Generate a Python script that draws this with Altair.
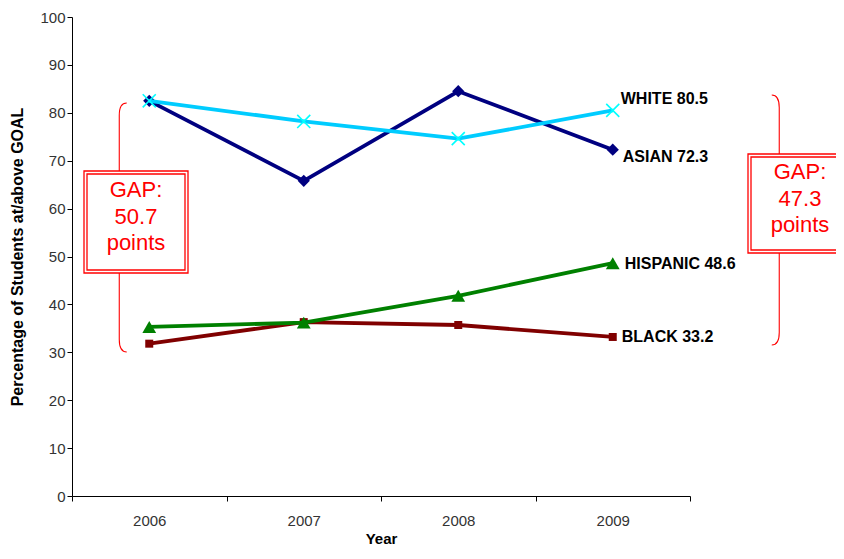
import altair as alt
import pandas as pd

years = ["2006", "2007", "2008", "2009"]
white = [82.5, 78.2, 74.6, 80.5]
asian = [82.5, 65.8, 84.5, 72.3]
hispanic = [35.3, 36.2, 41.8, 48.6]
black = [31.8, 36.3, 35.7, 33.2]
series_names = ["BLACK", "HISPANIC", "ASIAN", "WHITE"]
series_values = [black, hispanic, asian, white]
y_ticks = list(range(0, 101, 10))

rows = []
for name, vals in zip(series_names, series_values):
    for yr, v in zip(years, vals):
        rows.append({"year": yr, "series": name, "value": v})
df = pd.DataFrame(rows)
last = df[df["year"] == years[-1]].copy()
last["label"] = last["series"] + " " + last["value"].map(lambda v: f"{v:.1f}")

gap_first = max(white[0], asian[0]) - min(hispanic[0], black[0])
gap_last = max(white[-1], asian[-1]) - min(hispanic[-1], black[-1])

W, H = 618, 479
FONT = "Liberation Sans"

xscale = alt.Scale(type="band", domain=years, paddingInner=0, paddingOuter=0)
xaxis = alt.Axis(tickBand="extent", labelAngle=0, title="Year", labelFont=FONT,
                 labelFontSize=15, labelColor="#333333", labelPadding=12,
                 tickSize=5, tickColor="#000000", domainColor="#000000",
                 titleFont=FONT, titleFontSize=15, titleFontWeight="bold",
                 titleColor="#000000", titleBaseline="alphabetic", titleY=47)
yaxis = alt.Axis(values=y_ticks, title="Percentage of Students at/above GOAL",
                 labelFont=FONT, labelFontSize=15, labelColor="#333333",
                 labelPadding=2, tickSize=5, tickColor="#000000",
                 domainColor="#000000", titleFont=FONT, titleFontSize=16,
                 titleFontWeight="bold", titleColor="#000000", titlePadding=14)

X = alt.X("year:O", scale=xscale, bandPosition=0.5, axis=xaxis)
Y = alt.Y("value:Q", scale=alt.Scale(domain=[0, 100], nice=False), axis=yaxis)

styles = {
    "BLACK": dict(line="#800000", pt=dict(shape="square", size=64, filled=True, color="#800000"), dx=9, dy=0),
    "HISPANIC": dict(line="#008000", pt=dict(shape="triangle-up", size=190, filled=True, color="#008000"), dx=12, dy=1),
    "ASIAN": dict(line="#000080", pt=dict(shape="diamond", size=150, filled=True, color="#000080"), dx=10, dy=7),
    "WHITE": dict(line="#00CCFF", pt=dict(shape="M-1,-1L1,1M-1,1L1,-1", size=170, filled=False,
                                           stroke="#00FFFF", strokeWidth=1.6), dx=8, dy=-11),
}

layers = []
base = alt.Chart(df)
for name in series_names:
    st = styles[name]
    sub = base.transform_filter(alt.datum.series == name)
    layers.append(sub.mark_line(color=st["line"], strokeWidth=3.8).encode(x=X, y=Y))
    layers.append(sub.mark_point(opacity=1, **st["pt"]).encode(x=X, y=Y))

lab = alt.Chart(last)
for name in series_names:
    st = styles[name]
    layers.append(
        lab.transform_filter(alt.datum.series == name)
        .mark_text(align="left", baseline="middle", font=FONT, fontSize=16,
                   fontWeight="bold", color="#000000", dx=st["dx"], dy=st["dy"])
        .encode(x=X, y=Y, text="label:N")
    )

one = alt.Chart(pd.DataFrame({"k": [0]}))
brace_left = "M0.03,-1C-0.01,-1,-0.03,-0.97,-0.03,-0.9L-0.03,0.9C-0.03,0.97,-0.01,1,0.03,1"
brace_right = "M-0.03,-1C0.01,-1,0.03,-0.97,0.03,-0.9L0.03,0.9C0.03,0.97,0.01,1,-0.03,1"
RED = "#FF0000"
annot = [
    one.mark_point(shape=brace_left, size=249 ** 2, filled=False, stroke=RED, strokeWidth=1.1, opacity=1)
       .encode(x=alt.value(51), y=alt.value(210.5)),
    one.mark_point(shape=brace_right, size=250 ** 2, filled=False, stroke=RED, strokeWidth=1.1, opacity=1)
       .encode(x=alt.value(703.5), y=alt.value(203)),
    one.mark_rect(fill="#FFFFFF", stroke=RED, strokeWidth=1.3)
       .encode(x=alt.value(12), x2=alt.value(116), y=alt.value(154), y2=alt.value(256)),
    one.mark_rect(fill="#FFFFFF", fillOpacity=0, stroke=RED, strokeWidth=1.3)
       .encode(x=alt.value(15), x2=alt.value(113), y=alt.value(157), y2=alt.value(253)),
    one.mark_rect(fill="#FFFFFF", stroke=RED, strokeWidth=1.3)
       .encode(x=alt.value(676), x2=alt.value(900), y=alt.value(137), y2=alt.value(236)),
    one.mark_rect(fill="#FFFFFF", fillOpacity=0, stroke=RED, strokeWidth=1.3)
       .encode(x=alt.value(679), x2=alt.value(900), y=alt.value(140), y2=alt.value(233)),
    one.mark_text(text=["GAP:", f"{gap_first:.1f}", "points"], font=FONT, fontSize=22,
                  color=RED, align="center", baseline="middle", lineHeight=26.5)
       .encode(x=alt.value(64), y=alt.value(173)),
    one.mark_text(text=["GAP:", f"{gap_last:.1f}", "points"], font=FONT, fontSize=22,
                  color=RED, align="center", baseline="middle", lineHeight=26.5)
       .encode(x=alt.value(728), y=alt.value(155)),
]

chart = alt.layer(*(annot + layers)).properties(
    width=W, height=H,
    autosize=alt.AutoSizeParams(type="none"),
    padding={"left": 64, "top": 9, "right": 146, "bottom": 50},
).configure_view(stroke=None).configure_axis(grid=False)

chart.save("out.html", embed_options={"renderer": "svg", "actions": False})
